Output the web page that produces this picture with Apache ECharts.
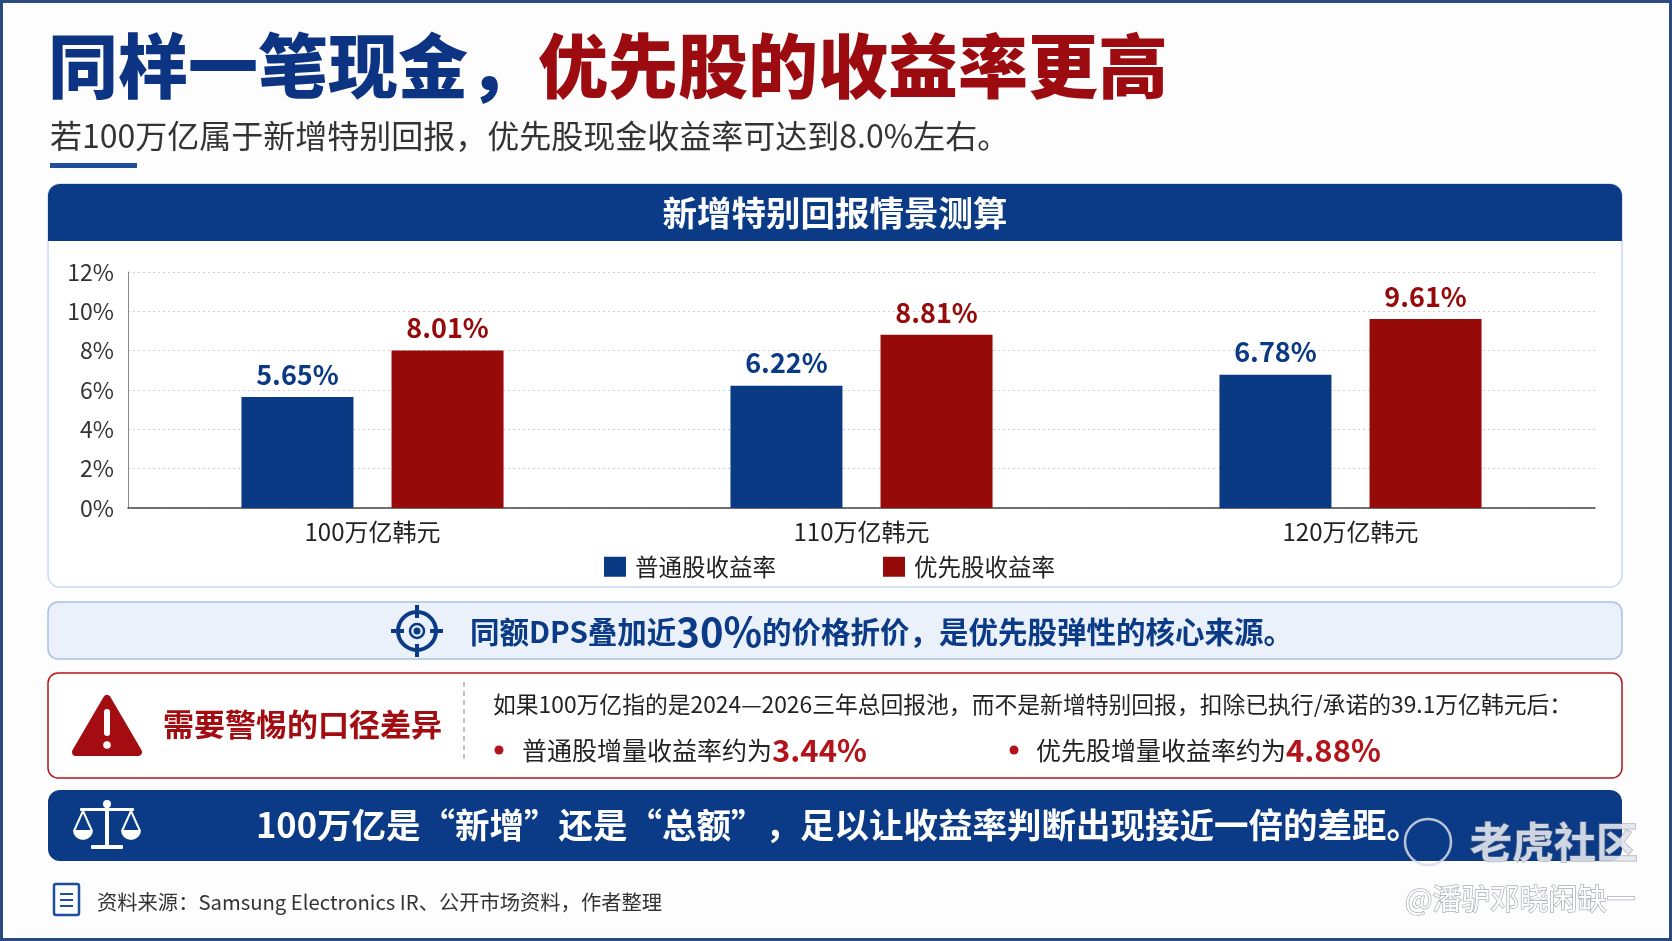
<!DOCTYPE html>
<html>
<head>
<meta charset="utf-8">
<title>同样一笔现金，优先股的收益率更高</title>
<script src="https://cdn.jsdelivr.net/npm/echarts@6/dist/echarts.min.js"></script>
<style>
  html, body { margin: 0; padding: 0; background: #fff; }
  #main { width: 1672px; height: 941px; }
</style>
</head>
<body>
<div id="main"></div>
<script>
// 数据
const categories = ['100万亿韩元', '110万亿韩元', '120万亿韩元'];
const commonYield = [5.65, 6.22, 6.78];   // 普通股收益率
const prefYield = [8.01, 8.81, 9.61];     // 优先股收益率
const seriesNames = ['普通股收益率', '优先股收益率'];
const yMax = 12;
const yStep = 2;

const FONT = "'Noto Sans CJK SC', 'Noto Sans', sans-serif";
const BLUE = '#0b3a86';
const RED = '#9c0b0f';
const BAR_BLUE = '#0b3a85';
const BAR_RED = '#960a0a';

function txt(x, y, text, opt) {
  return {
    type: 'text', z: opt.z || 10,
    style: Object.assign({
      x: x, y: y, text: text, fontFamily: FONT,
      verticalAlign: 'middle', align: 'left', fill: '#222'
    }, opt.style)
  };
}

// 装饰与文字
const graphics = [
  // 外框
  { type: 'rect', z: 0, shape: { x: 1.5, y: 1.5, width: 1669, height: 938 },
    style: { fill: '#fdfdfe', stroke: '#2b4a80', lineWidth: 3 } },
  // 标题
  txt(48, 66, '{b|同样一笔现金，}{r|优先股的收益率更高}', { style: {
    rich: {
      b: { fontSize: 70, fontWeight: 900, fill: '#0c3483', fontFamily: FONT },
      r: { fontSize: 70, fontWeight: 900, fill: RED, fontFamily: FONT }
    } } }),
  txt(50, 136, '若100万亿属于新增特别回报，优先股现金收益率可达到8.0%左右。',
    { style: { fontSize: 32, fill: '#333' } }),
  { type: 'rect', z: 5, shape: { x: 50, y: 163, width: 87, height: 5 }, style: { fill: '#1f4e9c' } },

  // 图表面板
  { type: 'rect', z: 1, shape: { x: 48, y: 184, width: 1574, height: 403, r: 12 },
    style: { fill: '#fff', stroke: '#c9d8ee', lineWidth: 1.5 } },
  { type: 'rect', z: 2, shape: { x: 48, y: 184, width: 1574, height: 57, r: [12, 12, 0, 0] },
    style: { fill: BLUE } },
  txt(835, 213, '新增特别回报情景测算', { style: { align: 'center', fontSize: 34.5, fontWeight: 'bold', fill: '#fff' } }),

  // 提示框1
  { type: 'rect', z: 1, shape: { x: 48, y: 602, width: 1574, height: 57, r: 10 },
    style: { fill: '#eaf1fb', stroke: '#a9c1e4', lineWidth: 1.5 } },
  { type: 'circle', z: 5, shape: { cx: 417, cy: 631, r: 19 }, style: { fill: 'none', stroke: BLUE, lineWidth: 4 } },
  { type: 'circle', z: 5, shape: { cx: 417, cy: 631, r: 7 }, style: { fill: 'none', stroke: BLUE, lineWidth: 2.5 } },
  { type: 'circle', z: 5, shape: { cx: 417, cy: 631, r: 3.5 }, style: { fill: BLUE } },
  { type: 'line', z: 5, shape: { x1: 417, y1: 605, x2: 417, y2: 618 }, style: { stroke: BLUE, lineWidth: 4 } },
  { type: 'line', z: 5, shape: { x1: 417, y1: 644, x2: 417, y2: 657 }, style: { stroke: BLUE, lineWidth: 4 } },
  { type: 'line', z: 5, shape: { x1: 391, y1: 631, x2: 404, y2: 631 }, style: { stroke: BLUE, lineWidth: 4 } },
  { type: 'line', z: 5, shape: { x1: 430, y1: 631, x2: 443, y2: 631 }, style: { stroke: BLUE, lineWidth: 4 } },
  txt(470, 632, '{a|同额DPS叠加近}{big|30%}{a|的价格折价，是优先股弹性的核心来源。}', { style: {
    rich: {
      a: { fontSize: 29.5, fontWeight: 'bold', fill: BLUE, fontFamily: FONT },
      big: { fontSize: 40, fontWeight: 'bold', fill: BLUE, fontFamily: FONT }
    } } }),

  // 提示框2
  { type: 'rect', z: 1, shape: { x: 48, y: 673, width: 1574, height: 105, r: 10 },
    style: { fill: '#fff', stroke: '#b3141b', lineWidth: 1.5 } },
  { type: 'polygon', z: 5, shape: { points: [[107, 699], [138, 752], [76, 752]] },
    style: { fill: '#a30d12', stroke: '#a30d12', lineWidth: 8, lineJoin: 'round' } },
  { type: 'rect', z: 6, shape: { x: 104, y: 709, width: 6, height: 27, r: 3 }, style: { fill: '#fff' } },
  { type: 'circle', z: 6, shape: { cx: 107, cy: 745, r: 3.8 }, style: { fill: '#fff' } },
  txt(163, 724, '需要警惕的口径差异', { style: { fontSize: 31, fontWeight: 'bold', fill: '#a30d12' } }),
  { type: 'line', z: 5, shape: { x1: 464, y1: 682, x2: 464, y2: 762 },
    style: { stroke: '#999', lineWidth: 1.2, lineDash: [5, 4] } },
  txt(493, 704, '如果100万亿指的是2024—2026三年总回报池，而不是新增特别回报，扣除已执行/承诺的39.1万亿韩元后：',
    { style: { fontSize: 22.8, fill: '#222' } }),
  { type: 'circle', z: 5, shape: { cx: 499, cy: 750, r: 4.5 }, style: { fill: '#b3141b' } },
  txt(522, 750, '{t|普通股增量收益率约为}{v|3.44%}', { style: { rich: {
    t: { fontSize: 25, fill: '#222', fontFamily: FONT },
    v: { fontSize: 31, fontWeight: 'bold', fill: '#b3141b', fontFamily: FONT } } } }),
  { type: 'circle', z: 5, shape: { cx: 1014, cy: 750, r: 4.5 }, style: { fill: '#b3141b' } },
  txt(1036, 750, '{t|优先股增量收益率约为}{v|4.88%}', { style: { rich: {
    t: { fontSize: 25, fill: '#222', fontFamily: FONT },
    v: { fontSize: 31, fontWeight: 'bold', fill: '#b3141b', fontFamily: FONT } } } }),

  // 结论条
  { type: 'rect', z: 1, shape: { x: 48, y: 790, width: 1574, height: 71, r: 12 }, style: { fill: BLUE } },
  // 天平图标
  { type: 'rect', z: 5, shape: { x: 105, y: 804, width: 4, height: 42 }, style: { fill: '#fff' } },
  { type: 'circle', z: 5, shape: { cx: 107, cy: 804, r: 4 }, style: { fill: '#fff' } },
  { type: 'rect', z: 5, shape: { x: 80, y: 808, width: 54, height: 3, r: 1 }, style: { fill: '#fff' } },
  { type: 'polyline', z: 5, shape: { points: [[74, 831], [83, 811], [92, 831]] }, style: { fill: 'none', stroke: '#fff', lineWidth: 2 } },
  { type: 'polyline', z: 5, shape: { points: [[122, 831], [131, 811], [140, 831]] }, style: { fill: 'none', stroke: '#fff', lineWidth: 2 } },
  { type: 'sector', z: 5, shape: { cx: 83, cy: 830, r: 10, r0: 0, startAngle: 0, endAngle: Math.PI }, style: { fill: '#fff' } },
  { type: 'sector', z: 5, shape: { cx: 131, cy: 830, r: 10, r0: 0, startAngle: 0, endAngle: Math.PI }, style: { fill: '#fff' } },
  { type: 'rect', z: 5, shape: { x: 91, y: 845, width: 32, height: 4, r: 1 }, style: { fill: '#fff' } },
  txt(256, 825, '100万亿是“新增”还是“总额”，足以让收益率判断出现接近一倍的差距。',
    { style: { fontSize: 34.5, fontWeight: 'bold', fill: '#fff' } }),

  // 资料来源
  { type: 'rect', z: 5, shape: { x: 54, y: 884, width: 25, height: 31, r: 2 }, style: { fill: '#fff', stroke: '#1f4e9c', lineWidth: 2.5 } },
  { type: 'line', z: 5, shape: { x1: 60, y1: 894, x2: 73, y2: 894 }, style: { stroke: '#1f4e9c', lineWidth: 2 } },
  { type: 'line', z: 5, shape: { x1: 60, y1: 900, x2: 73, y2: 900 }, style: { stroke: '#1f4e9c', lineWidth: 2 } },
  { type: 'line', z: 5, shape: { x1: 60, y1: 906, x2: 73, y2: 906 }, style: { stroke: '#1f4e9c', lineWidth: 2 } },
  txt(97, 902, '资料来源：Samsung Electronics IR、公开市场资料，作者整理', { style: { fontSize: 20.3, fill: '#333' } }),

  // 水印
  { type: 'circle', z: 100, shape: { cx: 1428, cy: 842, r: 23 }, style: { fill: 'none', stroke: 'rgba(215,220,230,0.85)', lineWidth: 2.5 } },
  txt(1470, 842, '老虎社区', { z: 100, style: { fontSize: 42, fontWeight: 'bold', fill: 'rgba(226,229,236,0.9)',
    stroke: 'rgba(130,135,150,0.6)', lineWidth: 1.5 } }),
  txt(1405, 899, '@潘驴邓晓闲缺一', { z: 100, style: { fontSize: 29, fill: '#fff',
    stroke: 'rgba(150,155,165,0.8)', lineWidth: 1.5 } })
];

function makeOption() {
  return {
    animation: false,
    textStyle: { fontFamily: FONT },
    graphic: graphics,
    legend: {
      data: seriesNames, left: 599, top: 550, z: 20,
      icon: 'rect', itemWidth: 22, itemHeight: 20, itemGap: 107,
      textStyle: { fontSize: 23.5, color: '#222', padding: [0, 0, 0, 4] }
    },
    grid: { left: 128, right: 77, top: 272, bottom: 433 },
    xAxis: {
      type: 'category', data: categories, z: 15,
      axisLine: { lineStyle: { color: '#444', width: 1.5 } },
      axisTick: { show: false },
      axisLabel: { fontSize: 24, color: '#222', margin: 12 }
    },
    yAxis: {
      type: 'value', min: 0, max: yMax, interval: yStep, z: 15,
      axisLine: { show: true, lineStyle: { color: '#888', width: 1 } },
      axisLabel: { formatter: '{value}%', fontSize: 23, color: '#333', margin: 14 },
      splitLine: { lineStyle: { color: '#cfcfcf', type: [2, 3] } }
    },
    series: [
      {
        name: seriesNames[0], type: 'bar', data: commonYield, z: 20,
        barWidth: 112, barGap: '34%',
        itemStyle: { color: BAR_BLUE },
        label: { show: true, position: 'top', distance: 9, fontSize: 27, fontWeight: 'bold', color: BAR_BLUE,
          formatter: p => p.value.toFixed(2) + '%' }
      },
      {
        name: seriesNames[1], type: 'bar', data: prefYield, z: 20,
        barWidth: 112,
        itemStyle: { color: BAR_RED },
        label: { show: true, position: 'top', distance: 9, fontSize: 27, fontWeight: 'bold', color: BAR_RED,
          formatter: p => p.value.toFixed(2) + '%' }
      }
    ]
  };
}

const myChart = echarts.init(document.getElementById('main'));
myChart.setOption(makeOption());
window.addEventListener('resize', function () {
  myChart.resize();
});
</script>
</body>
</html>
